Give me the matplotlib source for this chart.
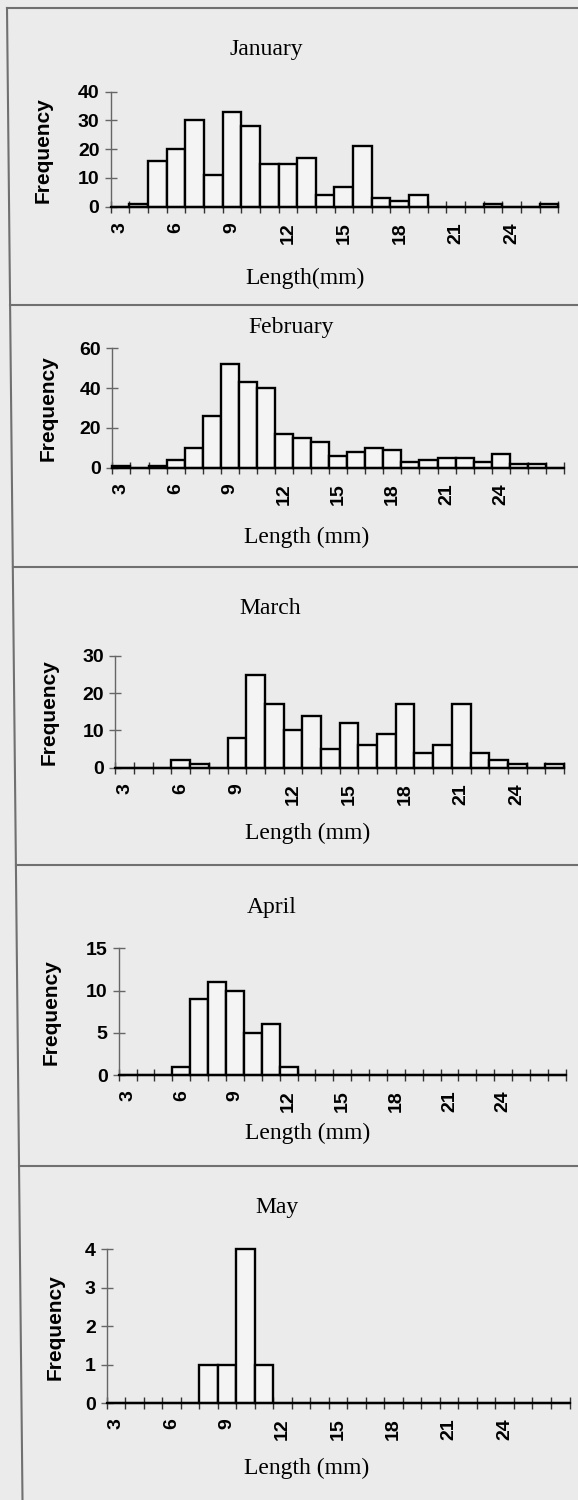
import matplotlib
matplotlib.use('Agg')
import matplotlib.pyplot as plt
from matplotlib.lines import Line2D
from matplotlib.ticker import FixedLocator

W, H = 578, 1500
BG = '#ebebeb'
BAR_FILL = '#f4f4f4'

# ---- data (length class in mm, frequency) ----
jan_len = [3, 4, 5, 6, 7, 8, 9, 10, 11, 12, 13, 14, 15, 16, 17, 18, 19, 20, 21, 22, 23, 24, 25, 26]
jan_freq = [0, 1, 16, 20, 30, 11, 33, 28, 15, 15, 17, 4, 7, 21, 3, 2, 4, 0, 0, 0, 1, 0, 0, 1]

feb_len = [3, 4, 5, 6, 7, 8, 9, 10, 11, 12, 13, 14, 15, 16, 17, 18, 19, 20, 21, 22, 23, 24, 25, 26, 27]
feb_freq = [1, 0, 1, 4, 10, 26, 52, 43, 40, 17, 15, 13, 6, 8, 10, 9, 3, 4, 5, 5, 3, 7, 2, 2, 0]

mar_len = [3, 4, 5, 6, 7, 8, 9, 10, 11, 12, 13, 14, 15, 16, 17, 18, 19, 20, 21, 22, 23, 24, 25, 26]
mar_freq = [0, 0, 0, 2, 1, 0, 8, 25, 17, 10, 14, 5, 12, 6, 9, 17, 4, 6, 17, 4, 2, 1, 0, 1]

apr_len = [3, 4, 5, 6, 7, 8, 9, 10, 11, 12, 13, 14, 15, 16, 17, 18, 19, 20, 21, 22, 23, 24, 25, 26, 27]
apr_freq = [0, 0, 0, 1, 9, 11, 10, 5, 6, 1, 0, 0, 0, 0, 0, 0, 0, 0, 0, 0, 0, 0, 0, 0, 0]

may_len = [3, 4, 5, 6, 7, 8, 9, 10, 11, 12, 13, 14, 15, 16, 17, 18, 19, 20, 21, 22, 23, 24, 25, 26, 27]
may_freq = [0, 0, 0, 0, 0, 1, 1, 4, 1, 0, 0, 0, 0, 0, 0, 0, 0, 0, 0, 0, 0, 0, 0, 0, 0]

x_tick_labels = [3, 6, 9, 12, 15, 18, 21, 24]
jan_yticks = [0, 10, 20, 30, 40]
feb_yticks = [0, 20, 40, 60]
mar_yticks = [0, 10, 20, 30]
apr_yticks = [0, 5, 10, 15]
may_yticks = [0, 1, 2, 3, 4]

months = ['January', 'February', 'March', 'April', 'May']
xlabels = ['Length(mm)', 'Length (mm)', 'Length (mm)', 'Length (mm)', 'Length (mm)']
ylabel = 'Frequency'

# ---- layout in pixels ----
panels = [
    dict(lens=jan_len, freq=jan_freq, yt=jan_yticks, box=(110.6, 558.4, 206.7, 91.7),
         title=(266, 50), xl=(305, 278), yl=(43, 150)),
    dict(lens=feb_len, freq=feb_freq, yt=feb_yticks, box=(112.4, 564.0, 467.7, 348.3),
         title=(291, 327), xl=(307, 537), yl=(48, 408)),
    dict(lens=mar_len, freq=mar_freq, yt=mar_yticks, box=(115.4, 564.0, 767.7, 656.0),
         title=(270, 609), xl=(308, 833), yl=(49, 712)),
    dict(lens=apr_len, freq=apr_freq, yt=apr_yticks, box=(118.7, 565.8, 1075.0, 948.3),
         title=(272, 907), xl=(308, 1133), yl=(51, 1012)),
    dict(lens=may_len, freq=may_freq, yt=may_yticks, box=(106.9, 569.5, 1403.3, 1249.3),
         title=(277, 1208), xl=(307, 1468), yl=(55, 1327)),
]

SERIF = ['Liberation Serif', 'DejaVu Serif']
SANS = ['Liberation Sans', 'DejaVu Sans']

fig = plt.figure(figsize=(W / 100, H / 100), dpi=100, facecolor=BG)


def fx(x):
    return x / W


def fy(y):
    return 1 - y / H


for name, xlab, p in zip(months, xlabels, panels):
    left, right, y0, ytop = p['box']
    ax = fig.add_axes([fx(left), fy(y0), (right - left) / W, (y0 - ytop) / H])
    ax.set_facecolor('none')
    lens, freq = p['lens'], p['freq']
    ax.bar(lens, freq, width=1.0, color=BAR_FILL, edgecolor='black', linewidth=1.7,
           clip_on=False, zorder=3)
    ax.set_xlim(lens[0] - 0.5, lens[-1] + 0.5)
    ax.set_ylim(0, p['yt'][-1])
    for s in ['top', 'right']:
        ax.spines[s].set_visible(False)
    ax.spines['left'].set_color('#666666')
    ax.spines['left'].set_linewidth(1.0)
    ax.spines['bottom'].set_color('black')
    ax.spines['bottom'].set_linewidth(1.6)
    ax.spines['bottom'].set_zorder(4)

    ax.xaxis.set_major_locator(FixedLocator(x_tick_labels))
    ax.set_xticklabels([str(v) for v in x_tick_labels], rotation=90,
                       fontsize=14, fontweight='bold', family=SANS)
    ax.xaxis.set_minor_locator(FixedLocator([v - 0.5 for v in lens] + [lens[-1] + 0.5]))
    ax.tick_params(axis='x', which='major', length=0, pad=11)
    ax.tick_params(axis='x', which='minor', direction='inout', length=8, width=1.0,
                   color='#333333')

    ax.set_yticks(p['yt'])
    ax.set_yticklabels([str(v) for v in p['yt']], fontsize=14, fontweight='bold', family=SANS)
    ax.tick_params(axis='y', direction='inout', length=8, width=1.0, color='#666666', pad=4)

    fig.text(fx(p['title'][0]), fy(p['title'][1]), name, ha='center', va='center',
             fontsize=17, family=SERIF)
    fig.text(fx(p['xl'][0]), fy(p['xl'][1]), xlab, ha='center', va='center',
             fontsize=17, family=SERIF)
    fig.text(fx(p['yl'][0]), fy(p['yl'][1]), ylabel, ha='center', va='center',
             rotation=90, fontsize=15, fontweight='bold', family=SANS)

# ---- panel frame lines (scanned page boxes) ----
LINE_C = '#707070'
fig.add_artist(Line2D([fx(7), fx(22.5)], [fy(8), fy(1500)], color=LINE_C, lw=1.5,
                      transform=fig.transFigure))
for yy in [8, 305, 567, 865, 1166]:
    fig.add_artist(Line2D([fx(7 + yy * 0.0103), fx(578)], [fy(yy), fy(yy)], color=LINE_C,
                          lw=1.5, transform=fig.transFigure))

fig.savefig('out.png', dpi=100, facecolor=BG)
